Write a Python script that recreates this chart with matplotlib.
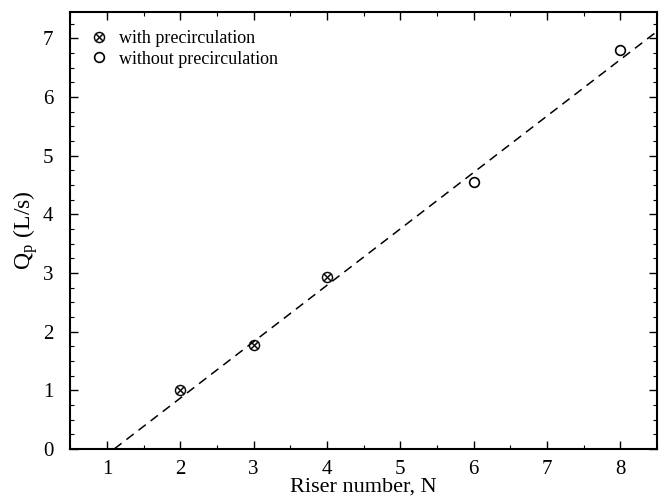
import numpy as np
import matplotlib.pyplot as plt
from matplotlib.ticker import MultipleLocator

plt.rcParams['font.family'] = ['Liberation Serif', 'DejaVu Serif']
plt.rcParams['mathtext.fontset'] = 'stix'

# data
n_with = [2, 3, 4]
q_with = [1.0, 1.77, 2.93]
n_without = [6, 8]
q_without = [4.55, 6.8]
fit_n = [1.1, 8.5]
fit_q = [0.0, 7.12]

fig = plt.figure(figsize=(6.63, 5.01), dpi=100)
ax = fig.add_axes([0.106, 0.104, 0.885, 0.872])

ax.plot(fit_n, fit_q, color='black', linestyle=(0, (6, 4)), linewidth=1.1)
ax.plot(n_with, q_with, linestyle='none', marker=r'$\otimes$', markersize=8,
        color='black', markeredgewidth=0.3, label='with precirculation')
ax.plot(n_without, q_without, linestyle='none', marker='o', markersize=7,
        markerfacecolor='white', markeredgecolor='black', markeredgewidth=1.2,
        label='without precirculation')

ax.set_xlim(0.5, 8.5)
ax.set_ylim(0, 7.45)
ax.xaxis.set_major_locator(MultipleLocator(1))
ax.yaxis.set_major_locator(MultipleLocator(1))
ax.xaxis.set_minor_locator(MultipleLocator(0.5))
ax.yaxis.set_minor_locator(MultipleLocator(0.25))
ax.tick_params(which='both', direction='in', top=True, right=True, labelsize=15)
ax.tick_params(which='major', length=6, width=1)
ax.tick_params(which='minor', length=3, width=0.8)
ax.tick_params(axis='x', which='major', pad=8)
ax.tick_params(axis='y', which='major', pad=12)
for s in ax.spines.values():
    s.set_linewidth(1.5)

ax.set_xlabel('Riser number, N', fontsize=16, labelpad=-1)
ax.set_ylabel(r'Q$_\mathregular{p}$ (L/s)', fontsize=17, labelpad=2)

ax.legend(loc='upper left', frameon=False, fontsize=13, handletextpad=0.5,
          borderaxespad=0.6, handlelength=1.2, labelspacing=0.2)

fig.savefig('out.png', dpi=100)
